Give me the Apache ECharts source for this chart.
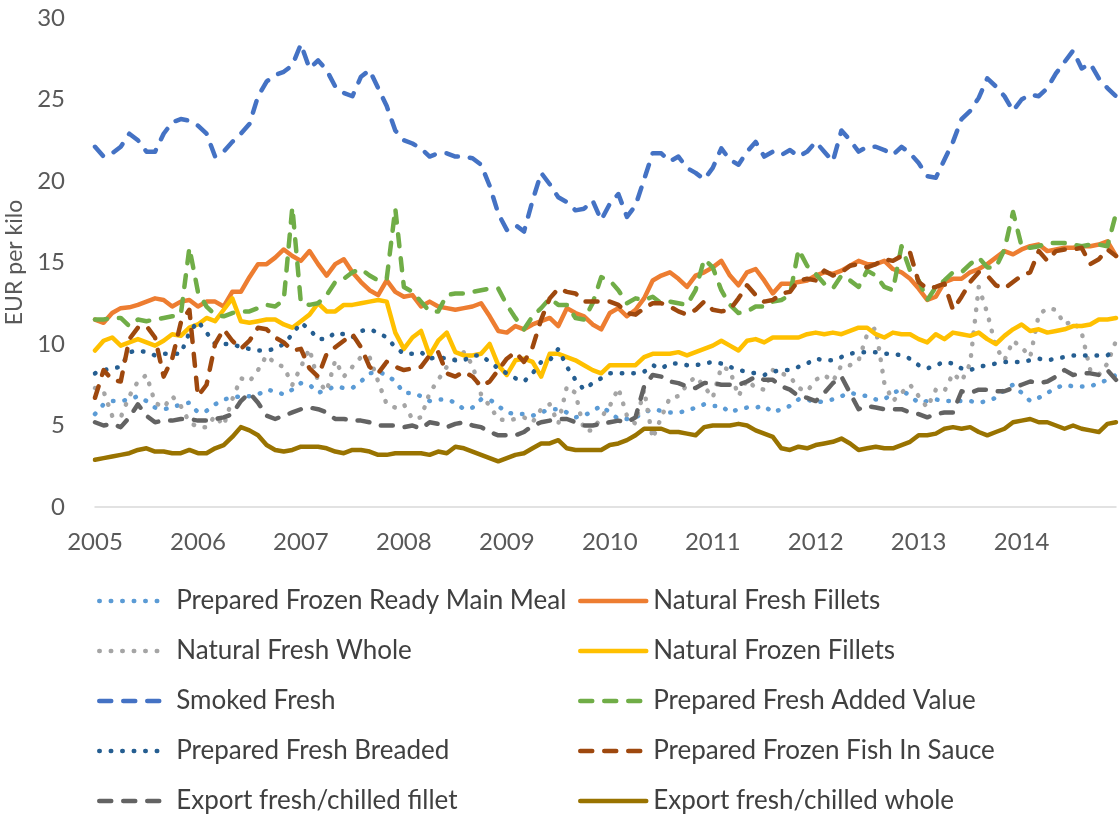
<!DOCTYPE html>
<html>
<head>
<meta charset="utf-8">
<script src="https://cdn.jsdelivr.net/npm/echarts@6/dist/echarts.min.js"></script>
<style>
  html, body { margin: 0; padding: 0; background: #fff; }
  #chart { width: 1120px; height: 814px; }
</style>
</head>
<body>
<div id="chart"></div>
<script>
// monthly prices, EUR per kilo, Jan 2005 .. Dec 2014
const frozenReadyMeal = [5.7,6.3,6.5,6.5,6.6,6.8,6.5,6.1,6.0,6.1,6.3,6.4,5.8,5.9,6.3,6.6,6.7,6.8,6.8,6.9,7.2,7.1,6.9,7.2,7.6,7.5,7.0,7.2,7.4,7.3,
  7.3,7.7,8.2,8.3,8.1,7.7,7.0,7.0,6.8,6.5,6.6,6.6,6.4,6.0,6.1,6.6,6.6,6.2,5.8,5.7,5.7,5.6,5.8,6.0,6.0,5.8,5.5,5.6,5.9,6.2,5.8,
  5.4,5.4,5.5,5.8,6.0,5.9,5.8,5.8,5.9,6.1,6.3,6.2,6.2,5.8,6.0,6.1,6.1,6.2,5.8,6.0,6.2,6.6,6.6,6.4,6.5,6.6,6.8,7.0,6.9,6.8,
  6.6,6.6,7.0,7.2,6.8,6.4,6.5,6.6,6.5,6.5,6.5,6.5,6.4,6.5,6.7,7.2,7.5,7.0,6.5,6.7,7.0,7.3,7.5,7.4,7.4,7.4,7.6,7.8,8.1];
const freshFillets = [11.5,11.3,11.9,12.2,12.25,12.4,12.6,12.8,12.7,12.3,12.6,12.7,12.3,12.6,12.6,12.3,13.2,13.2,14.1,14.9,14.9,15.3,15.8,15.4,15.1,15.7,14.9,14.2,14.9,15.2,
  14.4,13.8,13.3,13.0,13.9,13.2,12.9,13.0,12.3,12.6,12.3,12.2,12.1,12.2,12.3,12.5,11.7,10.8,10.7,11.1,10.9,11.2,11.4,11.6,11.1,12.2,11.9,11.7,11.2,10.9,11.9,
  12.2,11.7,12.1,12.8,13.9,14.2,14.4,14.0,13.5,14.2,14.4,14.7,15.1,14.2,13.6,14.4,14.6,13.9,13.1,13.7,13.7,13.8,13.9,14.2,14.4,14.3,14.5,14.8,15.1,14.9,
  14.9,15.1,14.6,14.4,14.0,13.4,12.7,12.9,13.8,14.0,14.0,14.4,14.6,14.9,15.3,15.7,15.5,15.8,16.0,16.1,15.7,15.8,15.9,15.9,16.0,16.0,16.1,16.3,15.4];
const freshWhole = [7.3,7.1,5.6,5.5,6.8,7.7,8.1,6.4,6.1,6.8,6.2,5.2,4.9,4.9,5.6,5.0,6.6,7.9,7.7,8.4,9.3,8.8,8.6,7.5,8.6,9.7,7.7,7.1,9.0,8.0,
  8.6,9.2,9.2,7.7,6.3,6.1,6.3,5.4,5.5,7.0,7.8,8.6,9.1,9.5,8.7,6.9,6.2,5.4,5.3,5.4,5.5,5.2,6.0,6.3,5.1,7.4,7.0,4.7,4.7,5.5,6.2,
  7.3,5.6,5.1,7.2,4.2,5.5,6.7,6.8,7.5,8.0,7.4,6.7,8.6,8.4,6.8,7.8,7.3,7.2,8.4,8.2,8.0,7.3,7.1,7.8,8.1,7.7,8.7,8.7,9.0,10.6,
  11.0,7.6,6.5,7.0,7.5,6.8,6.1,7.2,7.1,8.2,7.7,8.8,13.5,11.9,9.8,9.0,10.2,9.8,9.2,11.8,12.2,12.1,11.2,11.4,10.7,8.4,8.1,8.8,10.2];
const frozenFillets = [9.6,10.2,10.4,9.9,10.1,10.3,10.1,9.9,10.2,10.6,10.5,11.0,11.2,11.6,11.4,12.1,12.8,11.4,11.3,11.4,11.5,11.5,11.2,11.0,11.4,11.8,12.5,12.0,12.0,12.4,
  12.4,12.5,12.6,12.7,12.6,10.7,9.7,10.4,10.8,9.3,10.2,10.7,9.5,9.3,9.3,9.4,10.0,8.7,8.1,9.0,9.1,8.9,8.0,9.4,9.4,9.2,9.0,8.7,8.4,8.2,8.7,
  8.7,8.7,8.7,9.2,9.4,9.4,9.4,9.5,9.3,9.5,9.7,9.9,10.2,9.9,9.6,10.2,10.3,10.1,10.4,10.4,10.4,10.4,10.6,10.7,10.6,10.7,10.6,10.8,11.0,11.0,
  10.6,10.4,10.7,10.6,10.6,10.3,10.1,10.6,10.3,10.7,10.6,10.5,10.7,10.3,10.0,10.5,10.9,11.2,10.8,10.9,10.7,10.8,10.9,11.1,11.1,11.2,11.5,11.5,11.6];
const smokedFresh = [22.1,21.5,21.7,22.1,22.9,22.5,21.8,21.8,22.9,23.6,23.8,23.7,23.4,22.9,21.5,21.8,22.4,22.9,23.5,25.2,26.1,26.5,26.7,27.1,28.4,26.9,27.4,26.8,25.8,25.4,
  25.2,26.4,26.8,25.7,24.6,23.1,22.5,22.3,22.0,21.5,21.7,21.7,21.5,21.5,21.4,21.0,19.7,18.0,17.0,17.3,16.9,18.8,20.5,19.8,19.0,18.7,18.2,18.3,18.8,17.6,18.6,
  19.2,17.8,18.5,20.1,21.7,21.7,21.2,21.5,20.8,20.5,20.1,20.8,22.0,21.3,21.0,21.8,22.4,21.5,21.8,21.6,21.9,21.5,21.8,22.4,21.8,21.2,23.1,22.5,21.8,22.1,
  22.1,21.9,21.6,22.1,21.7,21.1,20.3,20.2,21.3,22.4,23.8,24.3,25.1,26.3,25.8,25.2,24.3,25.0,25.3,25.2,25.7,26.6,27.3,28.0,26.9,27.2,26.3,25.7,25.2];
const freshAddedValue = [11.5,11.5,11.6,11.6,11.1,11.5,11.4,11.5,11.6,11.7,11.8,15.9,13.2,12.3,11.8,11.7,11.9,12.0,12.0,12.2,12.4,12.3,12.7,18.4,12.5,12.4,12.5,13.0,13.8,14.0,
  14.4,14.6,14.2,13.9,14.0,18.3,13.5,13.2,12.6,12.0,12.0,13.0,13.1,13.1,13.2,13.3,13.4,13.4,12.4,11.6,10.9,11.7,12.2,12.8,12.4,12.4,11.6,11.5,12.5,14.1,13.9,
  13.3,12.5,12.8,12.7,12.9,12.5,12.6,12.5,12.4,13.3,15.2,14.7,13.3,12.4,11.9,12.0,12.3,12.3,12.6,12.7,13.0,15.8,14.8,14.3,13.7,13.4,14.2,13.9,13.5,14.5,
  14.2,13.5,13.3,16.0,14.5,13.9,12.7,13.5,13.9,14.4,14.4,14.9,15.3,14.7,14.7,15.8,18.1,16.0,15.9,16.0,16.2,16.2,16.2,16.1,16.0,16.1,16.1,16.0,18.0];
const freshBreaded = [8.2,8.4,8.5,8.6,9.5,9.6,9.5,9.3,9.4,9.4,9.4,10.7,11.4,10.7,10.0,10.0,10.0,9.8,9.7,9.6,9.6,9.7,10.0,10.6,11.3,10.9,10.3,10.3,10.7,10.6,
  10.4,10.8,10.9,10.7,10.4,9.8,9.4,9.4,9.5,9.1,9.2,9.1,9.0,9.0,9.3,9.3,8.9,8.5,8.2,7.9,7.7,8.2,8.9,9.0,9.7,8.6,7.8,7.2,7.6,7.9,8.2,
  8.2,8.2,8.2,8.3,8.7,8.5,8.8,8.8,8.7,8.7,8.8,8.9,8.8,8.6,8.4,8.3,8.2,8.1,8.3,8.4,8.4,8.6,8.8,9.1,9.0,9.0,9.2,9.4,9.5,9.5,
  9.5,9.4,9.4,9.3,9.1,8.7,8.5,8.7,8.9,8.8,8.5,8.4,8.6,8.7,8.8,8.9,8.9,8.9,9.0,9.1,9.0,9.1,9.2,9.3,9.3,9.3,9.3,9.3,9.7];
const fishInSauce = [6.7,8.4,7.8,7.7,10.3,11.0,11.1,10.4,8.0,9.1,11.3,12.1,6.8,7.5,10.0,10.9,10.2,9.7,10.2,11.0,10.9,10.4,10.1,9.6,9.7,8.5,8.0,9.4,9.8,10.2,
  10.6,9.8,8.6,8.2,8.9,8.6,8.4,8.5,8.6,9.3,9.5,8.2,8.0,8.3,8.0,7.4,7.7,8.4,9.1,9.5,8.9,9.8,11.5,12.8,13.4,13.2,13.1,12.6,12.6,12.6,12.6,
  12.4,11.9,11.8,12.2,12.5,12.5,12.3,12.0,11.8,12.1,12.6,12.1,12.0,12.1,12.8,13.6,13.0,12.6,12.7,13.1,13.2,13.9,14.0,13.9,14.5,14.2,14.4,14.8,14.9,14.7,
  14.9,15.2,15.1,15.4,15.6,13.8,13.4,13.5,13.7,12.1,12.9,13.8,14.4,14.2,13.6,13.4,13.8,14.2,14.4,15.7,15.1,15.7,15.8,15.8,15.9,14.9,15.2,15.8,15.4];
const exportFillet = [5.2,5.0,5.1,4.9,5.5,6.3,5.6,5.2,5.3,5.3,5.4,5.4,5.3,5.3,5.4,5.5,5.7,6.5,7.0,6.4,5.6,5.4,5.6,5.8,6.0,6.1,6.0,5.8,5.4,5.4,
  5.3,5.3,5.2,5.0,5.0,5.0,4.9,5.0,4.8,5.2,5.1,4.9,5.1,5.2,5.0,4.9,4.6,4.4,4.4,4.4,4.6,5.0,5.2,5.3,5.4,5.4,5.2,5.0,5.0,5.1,5.2,
  5.3,5.2,5.5,7.4,8.1,8.0,7.7,7.6,7.4,7.3,7.6,7.6,7.5,7.5,7.5,7.7,8.0,7.8,7.8,7.4,7.2,6.8,6.7,6.5,7.0,7.6,8.0,7.0,6.0,6.2,
  6.1,6.0,6.0,6.0,5.8,5.7,5.5,5.7,5.8,5.8,7.1,7.0,7.2,7.2,7.1,7.1,7.3,7.5,7.7,7.6,7.7,8.0,8.4,8.1,8.2,8.2,8.1,8.4,7.8];
const exportWhole = [2.9,3.0,3.1,3.2,3.3,3.5,3.6,3.4,3.4,3.3,3.3,3.5,3.3,3.3,3.6,3.8,4.3,4.9,4.7,4.4,3.8,3.5,3.4,3.5,3.7,3.7,3.7,3.6,3.4,3.3,
  3.5,3.5,3.4,3.2,3.2,3.3,3.3,3.3,3.3,3.2,3.4,3.3,3.7,3.6,3.4,3.2,3.0,2.8,3.0,3.2,3.3,3.6,3.9,3.9,4.1,3.6,3.5,3.5,3.5,3.5,3.8,
  3.9,4.1,4.4,4.8,4.8,4.8,4.6,4.6,4.5,4.4,4.9,5.0,5.0,5.0,5.1,5.0,4.7,4.5,4.3,3.6,3.5,3.7,3.6,3.8,3.9,4.0,4.2,3.9,3.5,3.6,
  3.7,3.6,3.6,3.8,4.0,4.4,4.4,4.5,4.8,4.9,4.8,4.9,4.6,4.4,4.6,4.8,5.2,5.3,5.4,5.2,5.2,5.0,4.8,5.0,4.8,4.7,4.6,5.1,5.2];

const years = ['2005','2006','2007','2008','2009','2010','2011','2012','2013','2014'];

// one category per month; a year label sits on each January
const months = [];
years.forEach(y => {
  for (let m = 1; m <= 12; m++) months.push(y + '-' + String(m).padStart(2, '0'));
});

const FONT = 'Lato';
const AXIS_TXT = '#595959';
const LEGEND_TXT = '#404040';
const DASH = [12, 12];
const DOT = [0.5, 11];

const seriesDefs = [
  { name: 'Prepared Frozen Ready Main Meal', data: frozenReadyMeal, color: '#5B9BD5', type: DOT },
  { name: 'Natural Fresh Fillets', data: freshFillets, color: '#ED7D31', type: 'solid' },
  { name: 'Natural Fresh Whole', data: freshWhole, color: '#A5A5A5', type: DOT },
  { name: 'Natural Frozen Fillets', data: frozenFillets, color: '#FFC000', type: 'solid' },
  { name: 'Smoked Fresh', data: smokedFresh, color: '#4472C4', type: DASH },
  { name: 'Prepared Fresh Added Value', data: freshAddedValue, color: '#70AD47', type: DASH },
  { name: 'Prepared Fresh Breaded', data: freshBreaded, color: '#255E91', type: DOT },
  { name: 'Prepared Frozen Fish In Sauce', data: fishInSauce, color: '#9E480E', type: DASH },
  { name: 'Export fresh/chilled fillet', data: exportFillet, color: '#636363', type: DASH },
  { name: 'Export fresh/chilled whole', data: exportWhole, color: '#997300', type: 'solid' }
];

// one legend per entry: two columns, five rows
const legends = seriesDefs.map((s, i) => ({
  orient: 'horizontal',
  left: i % 2 === 0 ? 97 : 578,
  top: 588 + Math.floor(i / 2) * 50,
  padding: 0,
  itemWidth: 66,
  itemHeight: 26,
  data: [s.name],
  selectedMode: false,
  itemStyle: { opacity: 0 },
  lineStyle: { color: s.color, width: 4.5, type: s.type, cap: 'round' },
  textStyle: {
    fontFamily: FONT, fontSize: 26, lineHeight: 26, color: LEGEND_TXT,
    padding: [0, 0, 0, i % 2 === 0 ? 6 : 2]
  }
}));

const chart = echarts.init(document.getElementById('chart'));

chart.setOption({
  animation: false,
  backgroundColor: '#fff',
  textStyle: { fontFamily: FONT },
  grid: { left: 95, right: 4, top: 18, bottom: 307, containLabel: false, outerBoundsMode: 'none' },
  legend: legends,
  xAxis: {
    type: 'category',
    data: months,
    boundaryGap: false,
    axisLine: { lineStyle: { color: '#D9D9D9', width: 1.5 } },
    axisTick: { show: false },
    axisLabel: {
      interval: (idx, val) => String(val).slice(5) === '01',
      formatter: val => String(val).slice(0, 4),
      fontFamily: FONT, fontSize: 24, color: AXIS_TXT, margin: 23
    }
  },
  yAxis: {
    type: 'value',
    min: 0, max: 30, interval: 5,
    name: 'EUR per kilo',
    nameLocation: 'middle',
    nameGap: 66,
    nameTextStyle: { fontFamily: FONT, fontSize: 23, color: AXIS_TXT },
    axisLine: { show: false },
    axisTick: { show: false },
    splitLine: { show: false },
    axisLabel: { fontFamily: FONT, fontSize: 24, color: AXIS_TXT, margin: 30 }
  },
  series: seriesDefs.map(s => ({
    name: s.name,
    type: 'line',
    data: s.data,
    symbol: 'none',
    color: s.color,
    lineStyle: { color: s.color, width: 4.5, type: s.type, cap: 'round', join: 'round' }
  }))
});
</script>
</body>
</html>
